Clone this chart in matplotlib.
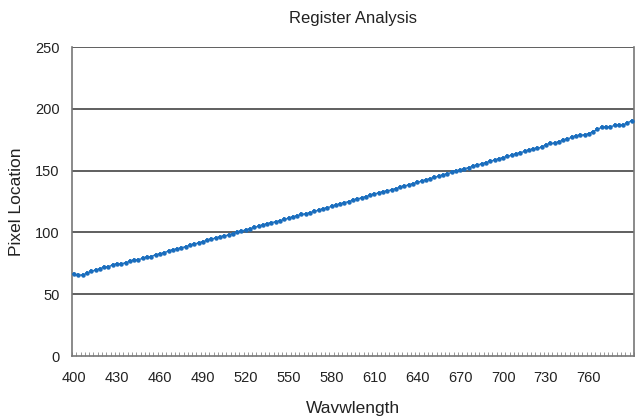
import matplotlib
matplotlib.use('Agg')
import matplotlib.pyplot as plt
import numpy as np

plt.rcParams['font.family'] = ['Liberation Sans', 'DejaVu Sans']

# wavelength (nm), every 3 nm
wavelength = list(range(400, 791, 3))
pixel = [
    66.0, 65.5, 65.5, 67.0, 68.5, 69.5, 70.5, 72.0, 72.0, 74.0,
    74.5, 74.5, 75.5, 76.5, 77.5, 78.0, 79.0, 80.0, 80.5, 82.0,
    82.5, 83.5, 85.0, 86.0, 86.5, 87.5, 88.5, 89.5, 90.5, 91.5,
    92.5, 93.5, 94.5, 95.5, 96.5, 97.0, 98.0, 99.0, 100.0, 101.0,
    102.0, 103.0, 104.0, 105.0, 106.0, 107.0, 108.0, 108.5, 109.5, 110.5,
    111.5, 112.5, 113.5, 114.5, 115.0, 116.0, 117.0, 118.0, 119.0, 120.0,
    121.0, 122.0, 123.0, 124.0, 125.0, 126.0, 127.0, 128.0, 129.0, 130.0,
    131.0, 132.0, 133.0, 133.5, 134.5, 135.5, 136.5, 137.5, 138.5, 139.5,
    140.5, 141.5, 142.5, 143.5, 144.5, 145.5, 146.5, 147.5, 148.5, 149.5,
    150.5, 151.5, 152.5, 153.5, 154.5, 155.5, 156.5, 157.5, 158.5, 159.5,
    160.5, 161.5, 162.5, 163.5, 164.5, 165.5, 166.5, 167.5, 168.0, 169.0,
    171.0, 172.0, 172.0, 173.5, 174.5, 175.5, 177.0, 178.0, 178.5, 179.0,
    180.0, 181.5, 183.5, 185.0, 185.0, 185.5, 186.5, 186.5, 187.0, 188.5,
    190.5,
]
xticks = list(range(400, 761, 30))
yticks = [0, 50, 100, 150, 200, 250]

fig = plt.figure(figsize=(6.4, 4.16), dpi=100)
ax = fig.add_axes([0.1125, 0.1442, 0.878, 0.7428])

for y in yticks[1:]:
    ax.axhline(y, color='#444444', lw=1.2, zorder=1)

ax.plot(wavelength, pixel, color='#1f74c4', lw=1.0, marker='+', ms=3,
        mew=1.2, zorder=3)
ax.plot(wavelength, pixel, ls='none', marker='o', ms=2.2, color='#1a6dbd',
        zorder=4)

ax.set_xlim(398.5, 791.5)
ax.set_ylim(0, 250)
ax.set_xticks(xticks)
ax.set_xticks(np.arange(398.5, 791.6, 3), minor=True)
ax.set_yticks(yticks)
ax.tick_params(axis='x', which='major', length=0, labelsize=10.5, pad=11,
               colors='#222222')
ax.tick_params(axis='x', which='minor', direction='in', length=3,
               width=0.6, color='#888888')
ax.tick_params(axis='y', length=0, labelsize=10.5, pad=9, colors='#222222')

for s in ['left', 'right', 'bottom']:
    ax.spines[s].set_color('#777777')
    ax.spines[s].set_linewidth(1.2)
ax.spines['top'].set_visible(False)

ax.set_title('Register Analysis', fontsize=12, pad=17, color='#222222')
ax.set_xlabel('Wavwlength', fontsize=12.5, labelpad=11, color='#222222')
ax.set_ylabel('Pixel Location', fontsize=12.5, labelpad=8, color='#222222')

fig.savefig('out.png', dpi=100)
